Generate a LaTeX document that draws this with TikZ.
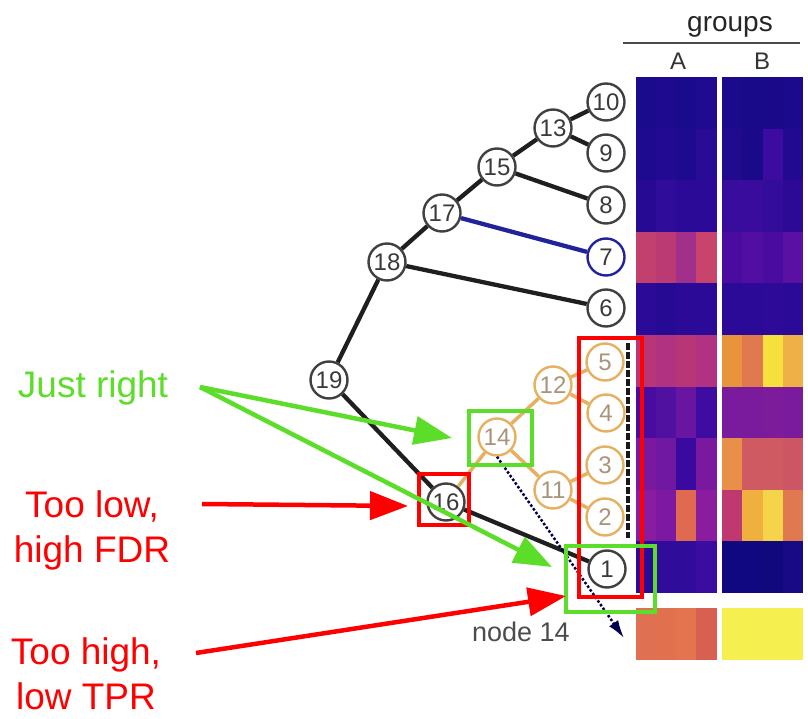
\documentclass[tikz,border=0pt]{standalone}
\usepackage{fontspec}
\setmainfont{Liberation Sans}
\usetikzlibrary{arrows.meta}
\definecolor{jgreen}{HTML}{5CDD2A}
\definecolor{jred}{HTML}{FF0000}
\definecolor{orng}{HTML}{E6B060}
\definecolor{orngtxt}{HTML}{A8947A}
\definecolor{tblue}{HTML}{22229A}
\definecolor{nodetxt}{HTML}{3A3A3A}
\newcommand\hrow[2]{\foreach \c [count=\i from 0] in {#2}{%
  \pgfmathsetmacro\xx{\i<4 ? 636+\i*20 : 722+(\i-4)*20.25}%
  \definecolor{hc}{HTML}{\c}%
  \fill[hc] (\xx,#1) rectangle ++(20.5,51.8);}}
\begin{document}
\begin{tikzpicture}[x=1pt,y=-1pt,
  tnode/.style={circle,draw=black!75,line width=2.4pt,fill=white,minimum size=37pt,inner sep=0pt,text=nodetxt,font=\fontsize{24}{24}\selectfont},
  onode/.style={tnode,draw=orng,text=orngtxt},
  bnode/.style={tnode,draw=tblue},
  tedge/.style={line width=4.3pt,draw=black!88},
  oedge/.style={line width=3.5pt,draw=orng},
  bedge/.style={line width=4.3pt,draw=tblue},
  gbox/.style={draw=jgreen,line width=4.5pt},
  rbox/.style={draw=jred,line width=4.5pt},
  garrow/.style={draw=jgreen,line width=4.5pt,-{Triangle[length=38pt,width=28pt]}},
  rarrow/.style={draw=jred,line width=4.5pt,-{Triangle[length=38pt,width=28pt]}},
  lbl/.style={align=center,inner sep=0pt,font=\fontsize{37}{45}\selectfont}
]
\useasboundingbox (0,0) rectangle (808,719);
% heatmap
\hrow{77}{1A0A8C,1E0A8E,1A0A8C,200A90,1C0A8C,180A88,1A0A8A,1C0A8C}
\hrow{128.6}{1E0A8E,220A92,1E0A8E,280C96,200A8E,1A0A8A,3C0CA0,220A90}
\hrow{180.2}{260A94,300C9A,2A0A96,2A0A96,380C9C,3A0C9E,340C9C,2C0A96}
\hrow{231.8}{C2406E,BC3A74,A0308A,C8446C,4A0CA0,520EA2,4A0CA0,5A10A2}
\hrow{283.4}{2A0A96,260A94,2C0A98,2A0A96,2C0A98,2A0A96,2E0A98,2A0A96}
\hrow{335}{B83676,B03280,B83676,B03280,E8943C,E07A4E,F5E03E,F0B048}
\hrow{386.6}{4A0CA0,5010A0,6A14A2,3E0CA0,7A1A9C,7A1A9C,7C1C9A,7A1A9C}
\hrow{438.2}{7A18A0,7018A2,3A0AA0,7A18A0,E8904A,D05A62,D05A62,CC5664}
\hrow{489.8}{8A1CA0,7C18A2,E06A50,8A1CA0,C03870,F0B040,F5D44A,E07850}
\hrow{541.4}{2C0A98,300C9A,300C9A,3A0CA0,10087E,100880,12087E,180A84}
\hrow{608}{E07052,E0704E,E47450,D86050,F5F050,F5F050,F5F050,F5F050}
% header
\node[font=\fontsize{28}{28}\selectfont,text=black!85,anchor=base] (grp) at (730,32) {groups};
\draw[line width=2pt,black!70] (623,43) -- (800,43);
\node[font=\fontsize{24}{24}\selectfont,text=black!80,anchor=base] (ga) at (678,70) {A};
\node[font=\fontsize{24}{24}\selectfont,text=black!80,anchor=base] (gb) at (762,70) {B};
% tree nodes
\node[tnode] (n10) at (606,102) {10};
\node[tnode] (n13) at (553,128) {13};
\node[tnode] (n9) at (606,153) {9};
\node[tnode] (n15) at (497,167) {15};
\node[tnode] (n8) at (606,205) {8};
\node[tnode] (n17) at (442,213) {17};
\node[bnode] (n7) at (606,257) {7};
\node[tnode] (n18) at (387,262) {18};
\node[tnode] (n6) at (606,308) {6};
\node[tnode] (n19) at (329,380) {19};
\node[onode] (n5) at (605,362) {5};
\node[onode] (n12) at (553,385) {12};
\node[onode] (n4) at (606,413) {4};
\node[onode] (n14) at (497,437) {14};
\node[onode] (n3) at (605,465) {3};
\node[onode] (n11) at (553,490) {11};
\node[onode] (n2) at (605,517) {2};
\node[tnode] (n16) at (446,502) {16};
\node[tnode] (n1) at (607,569) {1};
% edges
\draw[tedge] (n13) -- (n10);
\draw[tedge] (n13) -- (n9);
\draw[tedge] (n15) -- (n13);
\draw[tedge] (n15) -- (n8);
\draw[tedge] (n17) -- (n15);
\draw[bedge] (n17) -- (n7);
\draw[tedge] (n18) -- (n17);
\draw[tedge] (n18) -- (n6);
\draw[tedge] (n19) -- (n18);
\draw[tedge] (n19) -- (n16);
\draw[tedge] (n16) -- (n1);
\draw[oedge] (n16) -- (n14);
\draw[oedge] (n14) -- (n12);
\draw[oedge] (n14) -- (n11);
\draw[oedge] (n12) -- (n5);
\draw[oedge] (n12) -- (n4);
\draw[oedge] (n11) -- (n3);
\draw[oedge] (n11) -- (n2);
% dashed vertical
\coordinate (dvt) at (628,343);
\coordinate (dvb) at (628,538);
\draw[line width=3.5pt,black!90,dash pattern=on 7pt off 2pt] (dvt) -- (dvb);
% dotted arrow to node 14 row
\node[font=\fontsize{27}{27}\selectfont,text=black!70] (lab14) at (521,632) {node 14};
\coordinate (arrtip) at (624,638);
\draw[line width=2.5pt,draw=black!70!blue,dash pattern=on 2.5pt off 2pt,-{Latex[length=18pt,width=11pt]}] (n14.south) -- (arrtip);
% boxes
\draw[rbox] (579,338) rectangle (642,597);
\draw[gbox] (566,546) rectangle (655,612);
\draw[gbox] (469,411) rectangle (532,465);
\draw[rbox] (419,474) rectangle (469,525);
% labels
\node[lbl,text=jgreen] (just) at (93,388) {Just right};
\node[lbl,text=jred] (low) at (92,530) {Too low,\\high FDR};
\node[lbl,text=jred] (high) at (86,674) {Too high,\\low TPR};
% arrows
\coordinate (gs) at (200,387);
\coordinate (g1) at (452,438);
\coordinate (g2) at (552,567);
\coordinate (r1s) at (202,504);
\coordinate (r1) at (408,506);
\coordinate (r2s) at (196,653);
\coordinate (r2) at (566,596);
\draw[garrow] (gs) -- (g1);
\draw[garrow] (gs) -- (g2);
\draw[rarrow] (r1s) -- (r1);
\draw[rarrow] (r2s) -- (r2);
\end{tikzpicture}
\end{document}
